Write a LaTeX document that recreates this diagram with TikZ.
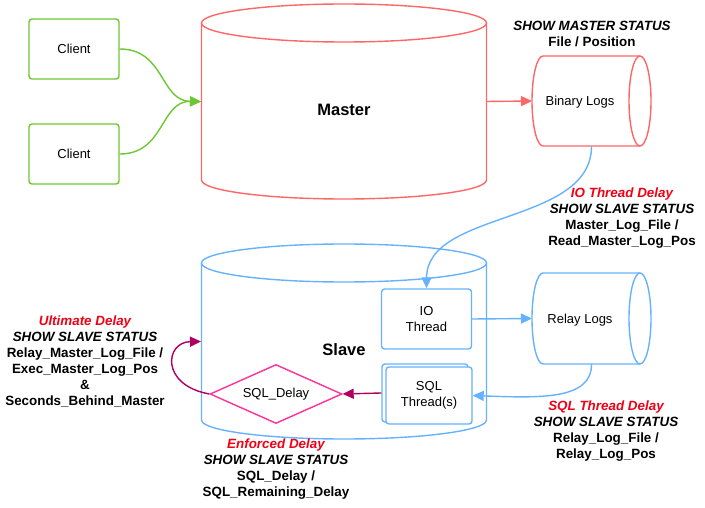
\documentclass[tikz,border=0pt]{standalone}
\usepackage{fontspec}
\setmainfont{Liberation Sans}
\usetikzlibrary{arrows.meta,shapes.geometric}
\definecolor{cgreen}{RGB}{108,199,48}
\definecolor{cred}{RGB}{255,102,102}
\definecolor{cblue}{RGB}{102,178,255}
\definecolor{ctext}{RGB}{240,0,20}
\definecolor{cpink}{RGB}{255,51,153}
\definecolor{cmag}{RGB}{176,0,96}
\tikzset{
  box/.style={draw,rounded corners=3pt,line width=1.4pt,minimum width=90pt,minimum height=60pt,inner sep=0pt,align=center,font=\fontsize{13}{16}\selectfont},
  area/.style={inner sep=0pt,outer sep=0pt},
  lbl/.style={align=center,font=\fontsize{13.4}{16}\selectfont\bfseries},
  ln/.style={line width=1.4pt},
  tip/.style={-{Triangle[length=11pt,width=10pt]}},
}
\newcommand{\ttl}[1]{\textcolor{ctext}{\itshape #1}}
\begin{document}
\begin{tikzpicture}[x=1pt,y=1pt]
\useasboundingbox (0,0) rectangle (705,-508);
% clients
\node[box,draw=cgreen] (c1) at (74,-49) {Client};
\node[box,draw=cgreen] (c2) at (74,-154) {Client};
% master cylinder
\node[area,minimum width=285pt,minimum height=195pt] (master) at (343.5,-101.5) {};
\draw[cred,ln] (344,-23) ellipse [x radius=142.5pt,y radius=19pt];
\draw[cred,ln] (201.5,-23) -- (201.5,-180) arc[start angle=180,end angle=360,x radius=142.5pt,y radius=19pt] -- (486.5,-23);
\node[font=\fontsize{16.5}{18}\selectfont\bfseries] (mlbl) at (344,-110) {Master};
% binary logs
\node[area,minimum width=119pt,minimum height=90pt] (bin) at (591.5,-101) {};
\draw[cred,ln] (640,-56) -- (543,-56) arc[start angle=90,end angle=270,x radius=11pt,y radius=45pt] -- (640,-146);
\draw[cred,ln] (640,-101) ellipse [x radius=11pt,y radius=45pt];
\node[font=\fontsize{13}{16}\selectfont] (binl) at (580,-102) {Binary Logs};
\node[lbl] (msl) at (592,-34) {\itshape SHOW MASTER STATUS\\File / Position};
% slave cylinder
\node[area,minimum width=285pt,minimum height=195pt] (slave) at (343.5,-341.5) {};
\draw[cblue,ln] (344,-263) ellipse [x radius=142.5pt,y radius=19pt];
\draw[cblue,ln] (201.5,-263) -- (201.5,-420) arc[start angle=180,end angle=360,x radius=142.5pt,y radius=19pt] -- (486.5,-263);
\node[font=\fontsize{16.5}{18}\selectfont\bfseries] (slbl) at (344,-350) {Slave};
% relay logs
\node[area,minimum width=119pt,minimum height=91pt] (relay) at (591.5,-318.5) {};
\draw[cblue,ln] (640,-273) -- (543,-273) arc[start angle=90,end angle=270,x radius=11pt,y radius=45.5pt] -- (640,-364);
\draw[cblue,ln] (640,-318.5) ellipse [x radius=11pt,y radius=45.5pt];
\node[font=\fontsize{13}{16}\selectfont] (rell) at (580,-320) {Relay Logs};
% threads
\node[box,draw=cblue] (io) at (426.5,-319) {IO\\Thread};
\node[box,draw=cblue,minimum width=86pt,minimum height=58pt,fill=white] (sqlb) at (425,-393) {};
\node[box,draw=cblue,minimum width=86pt,minimum height=57pt,fill=white] (sql) at (429,-395.5) {SQL\\Thread(s)};
% diamond
\node[diamond,draw=cpink,ln,aspect=2.24,minimum width=132pt,minimum height=59pt,inner sep=0pt,font=\fontsize{13}{16}\selectfont] (dly) at (276,-394) {SQL\_Delay};
% labels
\node[lbl] (iol) at (622,-218) {\ttl{IO Thread Delay}\\\itshape SHOW SLAVE STATUS\\Master\_Log\_File /\\Read\_Master\_Log\_Pos};
\node[lbl] (sqll) at (606,-431) {\ttl{SQL Thread Delay}\\\itshape SHOW SLAVE STATUS\\Relay\_Log\_File /\\Relay\_Log\_Pos};
\node[lbl] (ultl) at (85,-361) {\ttl{Ultimate Delay}\\\itshape SHOW SLAVE STATUS\\Relay\_Master\_Log\_File /\\Exec\_Master\_Log\_Pos\\\&\\Seconds\_Behind\_Master};
\node[lbl] (enfl) at (276,-469) {\ttl{Enforced Delay}\\\itshape SHOW SLAVE STATUS\\SQL\_Delay /\\SQL\_Remaining\_Delay};
% connectors
\draw[cgreen,ln,tip] (c1.east) .. controls (165,-49) and (160,-101) .. (master.west);
\draw[cgreen,ln,tip] (c2.east) .. controls (165,-154) and (160,-101) .. (master.west);
\draw[cred,ln,tip] (master.east) -- (bin.west);
\draw[cblue,ln,tip] (bin.south) .. controls (592,-225) and (427,-210) .. (io.north);
\draw[cblue,ln,tip] (io.east) -- (relay.west);
\draw[cblue,ln,tip] (relay.south) .. controls (592,-400) and (540,-398) .. (sql.east);
\draw[cmag,ln,tip] (sqlb.west) -- (dly.east);
\draw[cmag,ln,tip] (dly.west) .. controls (160,-385) and (165,-342) .. (slave.west);
\end{tikzpicture}
\end{document}
